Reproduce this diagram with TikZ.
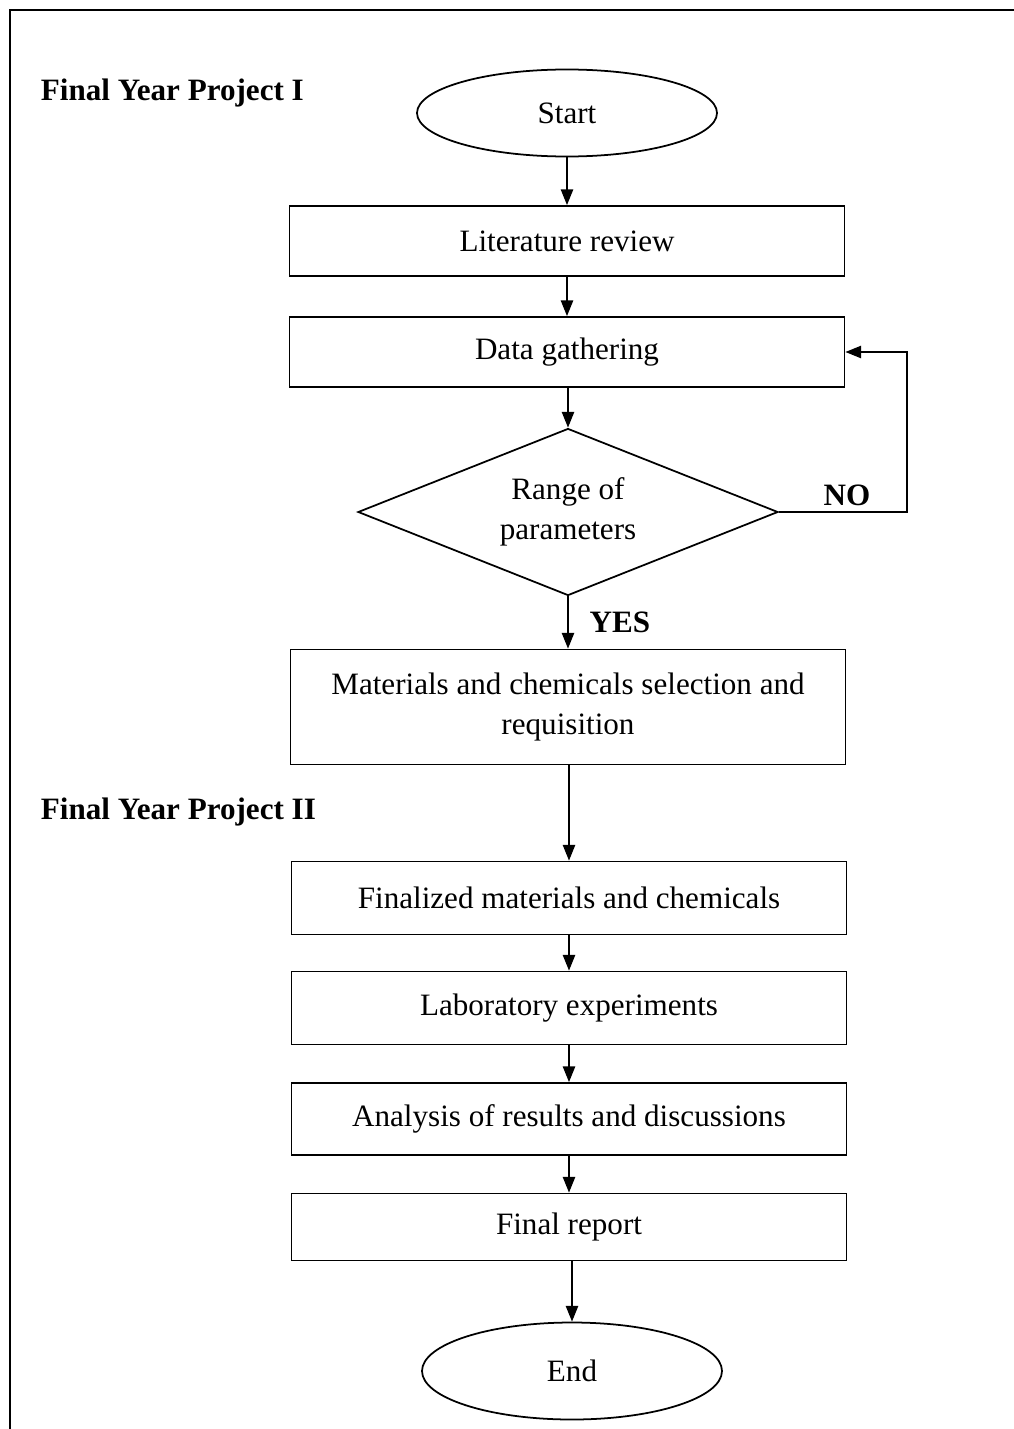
\documentclass[tikz,border=0pt]{standalone}
\usepackage{fontspec}
\setmainfont{Liberation Serif}
\usetikzlibrary{shapes.geometric,arrows.meta}

\begin{document}
\begin{tikzpicture}[
	font=\fontsize{17.7}{22.5}\selectfont,
	line width=1pt,
	pfeil/.style={-{Triangle[length=9pt,width=7pt]}},
	kasten/.style={draw, rectangle, minimum width=11.1cm, minimum height=1.4cm, align=center, inner sep=0pt},
	oval/.style={draw, ellipse, minimum width=6cm, minimum height=1.74cm, inner sep=0pt},
	raute/.style={draw, diamond, aspect=2.5, minimum width=8.4cm, minimum height=3.34cm, align=center, inner sep=0pt},
	titel/.style={font=\fontsize{17.7}{21}\selectfont\bfseries, anchor=west, inner sep=0pt}
]
	\useasboundingbox (0,0) rectangle (20.26,-28.58);

	%% Rahmen
	\draw[line width=1.3pt] (0.2,-28.7) -- (0.2,-0.2) -- (20.4,-0.2);

	%% Final Year Project I
	\node[titel] (fyp1) at (0.8,-1.86) {Final Year Project I};
	\node[oval] (start) at (11.34,-2.26) {Start};
	\node[kasten] (lit) at (11.34,-4.82) {Literature review};
	\node[kasten] (data) at (11.34,-7.04) {Data gathering};
	\node[raute] (range) at (11.36,-10.24) {Range of\\parameters};
	\node[kasten, minimum height=2.3cm] (mat) at (11.36,-14.14) {Materials and chemicals selection and\\requisition};

	%% Final Year Project II
	\node[titel] (fyp2) at (0.8,-16.24) {Final Year Project II};
	\node[kasten, minimum height=1.46cm] (fin) at (11.38,-17.96) {Finalized materials and chemicals};
	\node[kasten, minimum height=1.46cm] (lab) at (11.38,-20.16) {Laboratory experiments};
	\node[kasten, minimum height=1.44cm] (ana) at (11.38,-22.38) {Analysis of results and discussions};
	\node[kasten, minimum height=1.34cm] (rep) at (11.38,-24.54) {Final report};
	\node[oval, minimum height=1.94cm] (end) at (11.44,-27.42) {End};

	%%%%%%%%%%%%%%%%

	%% Pfeile
	\draw[pfeil] (start) -- (lit);
	\draw[pfeil] (lit) -- (data);
	\draw[pfeil] (data.south -| range.north) -- (range.north);
	\draw[pfeil] (range.south) -- (range.south |- mat.north) node[pos=0.5, right=0.3cm, font=\fontsize{17.7}{21}\selectfont\bfseries] (yes) {YES};
	\draw[pfeil] (mat.south -| fin.north) -- (fin.north);
	\draw[pfeil] (fin) -- (lab);
	\draw[pfeil] (lab) -- (ana);
	\draw[pfeil] (ana) -- (rep);
	\draw[pfeil] (rep.south -| end.north) -- (end.north);

	%% Schleife NO
	\coordinate (ecke) at (18.14,-10.24);
	\draw[pfeil] (range.east) -- (ecke) |- (data.east);
	\node[font=\fontsize{17.7}{21}\selectfont\bfseries, anchor=south] (no) at (16.94,-10.26) {NO};
\end{tikzpicture}
\end{document}
